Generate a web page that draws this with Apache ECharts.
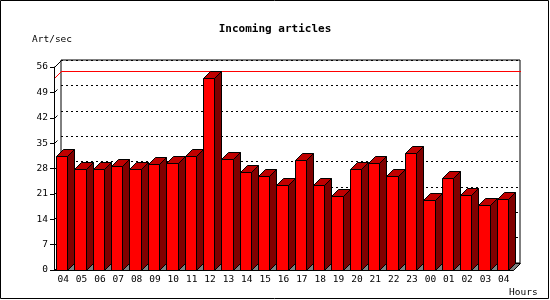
<!DOCTYPE html>
<html>
<head>
<meta charset="utf-8">
<title>Incoming articles</title>
<script src="https://cdn.jsdelivr.net/npm/echarts@6/dist/echarts.min.js"></script>
<style>
  html, body { margin: 0; padding: 0; background: #fff; }
  #chart { width: 550px; height: 300px; }
</style>
</head>
<body>
<div id="chart"></div>
<script>
// hours of the day, starting at 04 and wrapping round to 04 next day
var hours = ['04', '05', '06', '07', '08', '09', '10', '11', '12', '13', '14', '15', '16',
             '17', '18', '19', '20', '21', '22', '23', '00', '01', '02', '03', '04'];
var artPerSec = [31.5, 27.8, 28.0, 28.6, 27.8, 29.2, 29.4, 31.5, 53.0, 30.5, 26.9, 25.8, 23.4,
                 30.3, 23.4, 20.3, 27.8, 29.4, 25.8, 32.2, 19.2, 25.3, 20.6, 17.8, 19.5];
var yTicks = [0, 7, 14, 21, 28, 35, 42, 49, 56];

var DEPTH = 7; // fake 3d offset, px
var MONO = '"DejaVu Sans Mono", "Liberation Mono", monospace';

var chart = echarts.init(document.getElementById('chart'), null, { renderer: 'canvas' });

function px(v) { return Math.round(v) + 0.5; }

function seg(xa, ya, xb, yb, color) {
    return {
        type: 'line',
        shape: { x1: xa, y1: ya, x2: xb, y2: yb },
        style: { stroke: color, lineWidth: 1 }
    };
}

// floor, left wall bits and the red max line
function renderFrame(params, api) {
    var cs = params.coordSys;
    var x0 = px(cs.x), x1 = px(cs.x + cs.width), yb = px(cs.y + cs.height);
    var kids = [];
    kids.push({
        type: 'polygon',
        shape: { points: [[x0, yb], [x1, yb], [x1 + DEPTH, yb - DEPTH], [x0 + DEPTH, yb - DEPTH]] },
        style: { fill: '#808080', stroke: '#000', lineWidth: 1 }
    });
    yTicks.forEach(function (t) {
        var y = px(api.coord([0, t])[1]);
        var len = (t === yTicks[yTicks.length - 1]) ? DEPTH : 3;
        kids.push(seg(x0, y, x0 + len, y - len, '#000'));
    });
    var maxV = Math.max.apply(null, artPerSec);
    var ym = px(api.coord([0, maxV])[1]);
    kids.push(seg(x0, ym, x0 + DEPTH, ym - DEPTH, '#ff0000'));
    // horizontal part as a 1px filled strip
    kids.push({
        type: 'rect',
        shape: { x: x0 + DEPTH - 0.5, y: ym - DEPTH - 0.5, width: x1 - x0 + 1, height: 1 },
        style: { fill: '#ff0000', stroke: null }
    });
    return { type: 'group', children: kids };
}

function renderBar(params, api) {
    var base = api.coord([api.value(0), 0]);
    var top = api.coord([api.value(0), api.value(1)]);
    var catW = api.size([1, 0])[0];
    var l = px(base[0] - catW / 2 + 2);
    var r = px(base[0] - catW / 2 + catW - DEPTH + 2);
    var yb = px(base[1]);
    var yt = px(top[1]);
    return {
        type: 'group',
        children: [{
            type: 'polygon',
            shape: { points: [[r, yb], [r + DEPTH, yb - DEPTH], [r + DEPTH, yt - DEPTH], [r, yt]] },
            style: { fill: '#800000', stroke: '#000', lineWidth: 1 }
        }, {
            type: 'polygon',
            shape: { points: [[l, yt], [r, yt], [r + DEPTH, yt - DEPTH], [l + DEPTH, yt - DEPTH]] },
            style: { fill: '#c00000', stroke: '#000', lineWidth: 1 }
        }, {
            type: 'rect',
            shape: { x: l, y: yt, width: r - l, height: yb - yt },
            style: { fill: '#ff0000', stroke: '#000', lineWidth: 1 }
        }]
    };
}

var option = {
    animation: false,
    backgroundColor: '#fff',
    title: [{
        text: 'Incoming articles',
        left: 'center',
        top: 19,
        textStyle: { fontFamily: MONO, fontSize: 11, fontWeight: 'bold', color: '#000' }
    }, {
        text: 'Art/sec',
        left: 27,
        top: 30,
        textStyle: { fontFamily: MONO, fontSize: 9.5, fontWeight: 'normal', color: '#000' }
    }, {
        text: 'Hours',
        left: 504,
        top: 283,
        textStyle: { fontFamily: MONO, fontSize: 9.5, fontWeight: 'normal', color: '#000' }
    }],
    grid: [
        // front plane
        { left: 54, right: 37, top: 67, bottom: 30, show: false },
        // back plane
        { left: 54 + DEPTH, right: 37 - DEPTH, top: 67 - DEPTH, bottom: 30 + DEPTH,
          show: true, backgroundColor: '#fff', borderColor: '#000', borderWidth: 1, z: 0 }
    ],
    xAxis: [{
        gridIndex: 0,
        type: 'category',
        data: hours,
        axisLine: { lineStyle: { color: '#000', width: 1 } },
        axisTick: { length: 4, lineStyle: { color: '#000' } },
        axisLabel: { color: '#000', fontFamily: MONO, fontSize: 9.5, margin: 5, interval: 0 },
        z: 10
    }, {
        gridIndex: 1,
        type: 'category',
        data: hours,
        show: false
    }],
    yAxis: [{
        gridIndex: 0,
        type: 'value',
        min: 0,
        max: 56,
        interval: 7,
        axisLine: { show: true, lineStyle: { color: '#000', width: 1 } },
        axisTick: { show: true, length: 4, lineStyle: { color: '#000' } },
        axisLabel: { color: '#000', fontFamily: MONO, fontSize: 9.5, margin: 6 },
        splitLine: { show: false },
        z: 10
    }, {
        gridIndex: 1,
        type: 'value',
        min: 0,
        max: 56,
        interval: 7,
        axisLine: { show: false },
        axisTick: { show: false },
        axisLabel: { show: false },
        splitLine: { show: true, lineStyle: { color: '#000', width: 1, type: [2, 3] } },
        z: 1
    }],
    series: [{
        type: 'custom',
        xAxisIndex: 0,
        yAxisIndex: 0,
        data: [[0, 0]],
        renderItem: renderFrame,
        silent: true,
        z: 2
    }, {
        type: 'custom',
        xAxisIndex: 0,
        yAxisIndex: 0,
        data: artPerSec.map(function (v, i) { return [i, v]; }),
        renderItem: renderBar,
        silent: true,
        z: 3
    }],
    graphic: [{
        type: 'rect',
        shape: { x: 0.5, y: 0.5, width: 548, height: 298 },
        style: { fill: null, stroke: '#000', lineWidth: 1 },
        z: 100
    }]
};

chart.setOption(option);
</script>
</body>
</html>
